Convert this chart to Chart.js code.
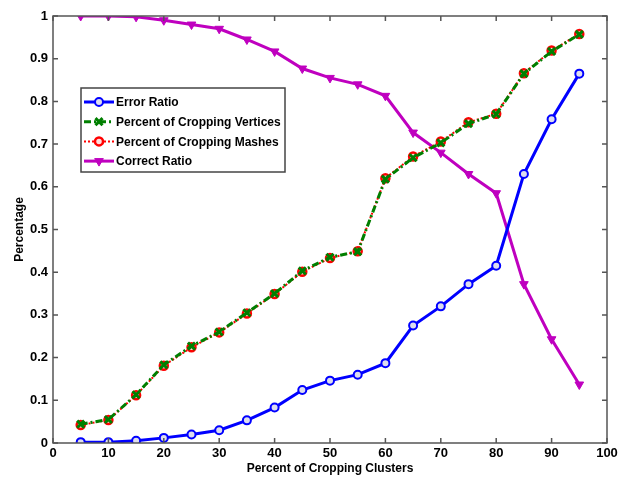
<!DOCTYPE html>
<html>
<head>
<meta charset="utf-8">
<script src="https://cdn.jsdelivr.net/npm/chart.js@4"></script>
<style>
  body { margin: 0; background: #fff; }
  #wrap { width: 629px; height: 481px; }
</style>
</head>
<body>
<div id="wrap"><canvas id="myChart"></canvas></div>
<script>
const clusters = [5, 10, 15, 20, 25, 30, 35, 40, 45, 50, 55, 60, 65, 70, 75, 80, 85, 90, 95];

const errorRatio = [0.002, 0.002, 0.005, 0.012, 0.02, 0.03, 0.053, 0.083, 0.124, 0.146, 0.16, 0.187, 0.275, 0.32, 0.372, 0.415, 0.63, 0.758, 0.865];
const croppingVertices = [0.044, 0.055, 0.113, 0.183, 0.227, 0.26, 0.305, 0.35, 0.403, 0.435, 0.448, 0.618, 0.668, 0.703, 0.748, 0.77, 0.865, 0.917, 0.957];
const croppingMashes = [0.042, 0.054, 0.112, 0.181, 0.224, 0.259, 0.303, 0.349, 0.401, 0.433, 0.449, 0.62, 0.671, 0.706, 0.751, 0.771, 0.866, 0.919, 0.958];
const correctRatio = [1.0, 1.0, 0.998, 0.99, 0.98, 0.97, 0.945, 0.917, 0.877, 0.855, 0.84, 0.813, 0.727, 0.68, 0.63, 0.585, 0.372, 0.243, 0.137];

const xTicks = [0, 10, 20, 30, 40, 50, 60, 70, 80, 90, 100];
const yTicks = [0, 0.1, 0.2, 0.3, 0.4, 0.5, 0.6, 0.7, 0.8, 0.9, 1];

const font = 'Liberation Sans, Arial, sans-serif';

function pts(vals) {
    return clusters.map((x, i) => ({ x: x, y: vals[i] }));
}

const data = {
    datasets: [{
        label: 'Error Ratio',
        data: pts(errorRatio),
        borderColor: '#0000ff',
        backgroundColor: '#dde',
        borderWidth: 3,
        pointStyle: 'circle',
        pointRadius: 4,
        pointBorderWidth: 2,
        pointBorderColor: '#0000ff'
    }, {
        label: 'Percent of Cropping Vertices',
        data: pts(croppingVertices),
        borderColor: '#007f00',
        backgroundColor: '#007f00',
        borderWidth: 3,
        borderDash: [7, 3, 2, 3],
        pointStyle: 'crossRot',
        pointRadius: 5,
        pointBorderWidth: 3
    }, {
        label: 'Percent of Cropping Mashes',
        data: pts(croppingMashes),
        borderColor: '#ff0000',
        backgroundColor: '#fdd',
        borderWidth: 2,
        borderDash: [2, 2],
        pointStyle: 'circle',
        pointRadius: 4,
        pointBorderWidth: 2.5,
        pointBorderColor: '#ff0000'
    }, {
        label: 'Correct Ratio',
        data: pts(correctRatio),
        borderColor: '#bf00bf',
        backgroundColor: '#bf00bf',
        borderWidth: 3,
        pointStyle: 'triangle',
        pointRotation: 180,
        pointRadius: 5,
        pointBorderWidth: 1
    }]
};

// MATLAB-like box with inner ticks, plus legend drawn inside the plot
const boxPlugin = {
    id: 'box',
    afterDraw(chart) {
        const ctx = chart.ctx;
        const a = chart.chartArea;
        const xs = chart.scales.x, ys = chart.scales.y;
        ctx.save();
        ctx.strokeStyle = '#555';
        ctx.lineWidth = 1.5;
        ctx.strokeRect(a.left, a.top, a.right - a.left, a.bottom - a.top);
        ctx.beginPath();
        xTicks.forEach(v => {
            const px = xs.getPixelForValue(v);
            ctx.moveTo(px, a.bottom); ctx.lineTo(px, a.bottom - 5);
            ctx.moveTo(px, a.top); ctx.lineTo(px, a.top + 5);
        });
        yTicks.forEach(v => {
            const py = ys.getPixelForValue(v);
            ctx.moveTo(a.left, py); ctx.lineTo(a.left + 5, py);
            ctx.moveTo(a.right, py); ctx.lineTo(a.right - 5, py);
        });
        ctx.stroke();

        // legend
        const lx = 81, ly = 88, lw = 204, lh = 84;
        ctx.fillStyle = '#fff';
        ctx.fillRect(lx, ly, lw, lh);
        ctx.strokeStyle = '#444';
        ctx.lineWidth = 1.5;
        ctx.strokeRect(lx, ly, lw, lh);
        ctx.font = 'bold 12px ' + font;
        ctx.textBaseline = 'middle';
        chart.data.datasets.forEach((ds, i) => {
            const y = ly + 14 + i * 19.7;
            ctx.save();
            ctx.strokeStyle = ds.borderColor;
            ctx.lineWidth = ds.borderWidth;
            ctx.setLineDash(ds.borderDash || []);
            ctx.beginPath();
            ctx.moveTo(lx + 3, y); ctx.lineTo(lx + 33, y);
            ctx.stroke();
            ctx.setLineDash([]);
            ctx.lineWidth = ds.pointBorderWidth;
            ctx.fillStyle = ds.backgroundColor;
            Chart.helpers.drawPoint(ctx, {
                pointStyle: ds.pointStyle,
                rotation: ds.pointRotation || 0,
                radius: ds.pointRadius,
                borderWidth: ds.pointBorderWidth
            }, lx + 18, y);
            ctx.restore();
            ctx.fillStyle = '#000';
            ctx.fillText(ds.label, lx + 35, y + 1);
        });
        ctx.restore();
    }
};

const tickFont = { family: font, size: 13, weight: 'bold' };

const config = {
    type: 'line',
    data: data,
    options: {
        responsive: true,
        maintainAspectRatio: false,
        animation: false,
        layout: { padding: { top: 16, right: 22, left: 12, bottom: 5 } },
        plugins: {
            legend: { display: false },
            tooltip: { enabled: false }
        },
        scales: {
            x: {
                type: 'linear',
                min: 0,
                max: 100,
                afterBuildTicks: s => { s.ticks = xTicks.map(v => ({ value: v })); },
                afterFit: s => { s.height = 33; },
                grid: { display: false, drawTicks: false },
                border: { display: false },
                ticks: { color: '#000', font: tickFont, padding: 3, maxRotation: 0 },
                title: { display: true, text: 'Percent of Cropping Clusters', color: '#000', font: { family: font, size: 12, weight: 'bold' }, padding: { top: 1, bottom: 0 } }
            },
            y: {
                min: 0,
                max: 1,
                afterBuildTicks: s => { s.ticks = yTicks.map(v => ({ value: v })); },
                afterFit: s => { s.width = 41; },
                grid: { display: false, drawTicks: false },
                border: { display: false },
                ticks: { color: '#000', font: tickFont, padding: 5, callback: v => String(Math.round(v * 10) / 10) },
                title: { display: true, text: 'Percentage', color: '#000', font: { family: font, size: 12, weight: 'bold' }, padding: { top: 0, bottom: 0 } }
            }
        }
    },
    plugins: [boxPlugin]
};

const myChart = new Chart(document.getElementById('myChart'), config);
</script>
</body>
</html>
